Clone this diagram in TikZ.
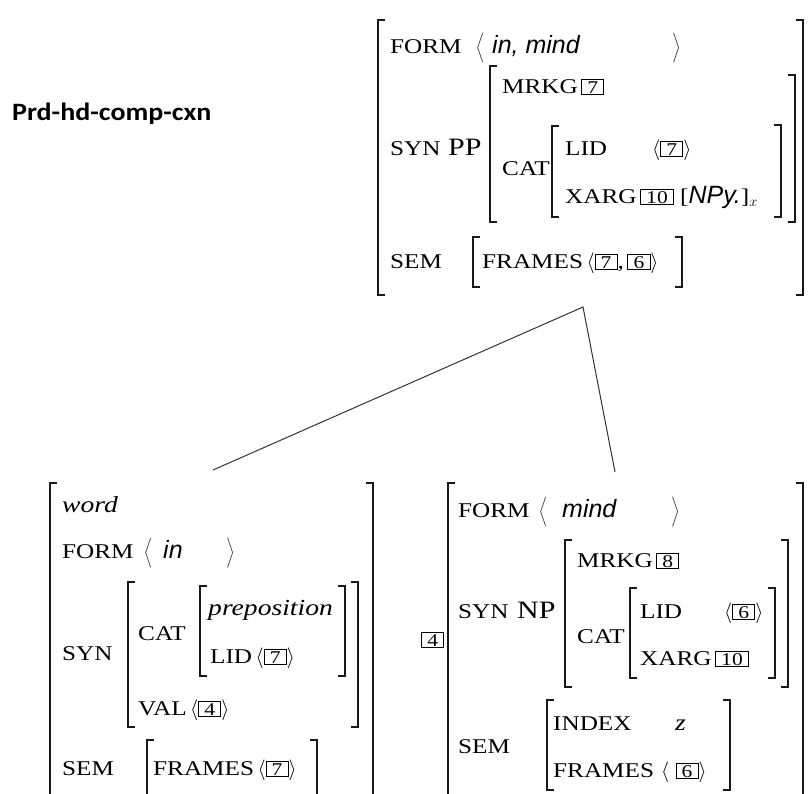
\documentclass[tikz,border=0pt]{standalone}
\usepackage{fontspec}
\setmainfont{Liberation Serif}[FakeStretch=1.2]
\newfontfamily\sansf{Liberation Sans}
\newfontfamily\titlef{Carlito}[FakeStretch=1.12]
\newcommand\bx[1]{{\setlength\fboxsep{1.2pt}\setlength\fboxrule{0.9pt}\fbox{\fontsize{18}{18}\selectfont\hspace{4pt}#1\hspace{4pt}}}}
\newcommand\sit[1]{{\sansf\itshape\fontsize{25}{28}\selectfont #1}}
\newcommand\myLA{$\left\langle\vrule height 21pt depth 9pt width 0pt\right.$}
\newcommand\myRA{$\left.\vrule height 21pt depth 9pt width 0pt\right\rangle$}
\newcommand\la{$\langle$}
\newcommand\ra{$\rangle$}
\tikzset{
  lab/.style={anchor=base west, inner sep=0pt, font=\fontsize{21}{24}\selectfont, text=black},
  big/.style={lab, font=\fontsize{25}{28}\selectfont},
  itl/.style={lab, font=\fontsize{23}{26}\selectfont\itshape},
  brk/.style={line width=1.2pt, black!90},
  conn/.style={line width=1pt, black!80}
}
\newcommand\lbr[3]{\draw[brk] (#1+7,#2) -- (#1,#2) -- (#1,#3) -- (#1+7,#3);}
\newcommand\rbr[3]{\draw[brk] (#1-7,#2) -- (#1,#2) -- (#1,#3) -- (#1-7,#3);}
\begin{document}
\begin{tikzpicture}[x=1pt,y=-1pt]
\useasboundingbox (0,0) rectangle (810,793);
\fill[white] (0,0) rectangle (810,793);

% title
\node[anchor=base west, inner sep=0pt, font=\titlef\bfseries\fontsize{25}{28}\selectfont] (title) at (12,120) {Prd-hd-comp-cxn};

% ---------- top AVM ----------
\lbr{378}{20}{295} \rbr{803}{20}{295}
\node[lab] (tform) at (390,53) {FORM};
\node[lab] (tfl) at (476,53) {\myLA};
\node[lab] (tfv) at (492,53) {\sit{in, mind}};
\node[lab] (tfr) at (671,53) {\myRA};

\node[lab] (tsyn) at (390,155) {SYN};
\node[big] (tpp) at (448,155) {PP};
\lbr{490}{66}{222} \rbr{795}{75}{222}
\node[lab] (tmrkg) at (502,93) {MRKG\,\bx{7}};
\node[lab] (tcat) at (502,175) {CAT};
\lbr{552}{126}{217} \rbr{781}{125}{217}
\node[lab] (tlid) at (565,155) {LID};
\node[lab] (tlidv) at (652,155) {\la\bx{7}\ra};
\node[lab] (txarg) at (565,203) {XARG\,\bx{10}};
\node[lab] (txargv) at (680,203) {[\sit{NPy.}]$_x$};

\node[lab] (tsem) at (390,268) {SEM};
\lbr{473}{237}{287} \rbr{682}{237}{287}
\node[lab] (tframes) at (482,268) {FRAMES\,\la\bx{7},\,\bx{6}\ra};

% connectors
\coordinate (apex) at (583,307);
\coordinate (ltop) at (213,470);
\coordinate (rtop) at (615,472);
\draw[conn] (ltop) -- (apex) -- (rtop);

% ---------- bottom-left AVM ----------
\lbr{50}{483}{805} \rbr{373}{483}{805}
\node[itl] (lword) at (62,512) {word};
\node[lab] (lform) at (62,558) {FORM};
\node[lab] (lfl) at (144,558) {\myLA};
\node[lab] (lfv) at (163,558) {\sit{in}};
\node[lab] (lfr) at (225,558) {\myRA};
\node[lab] (lsyn) at (62,660) {SYN};
\lbr{128}{582}{727} \rbr{358}{582}{727}
\node[lab] (lcat) at (138,640) {CAT};
\lbr{200}{586}{676} \rbr{345}{586}{676}
\node[itl] (lprep) at (208,615) {preposition};
\node[lab] (llid) at (210,663) {LID\,\la\bx{7}\ra};
\node[lab] (lval) at (138,715) {VAL\,\la\bx{4}\ra};
\node[lab] (lsem) at (62,775) {SEM};
\lbr{147}{740}{805} \rbr{317}{740}{805}
\node[lab] (lframes) at (153,775) {FRAMES\,\la\bx{7}\ra};

% ---------- bottom-right AVM ----------
\node[lab] (rtag) at (421,646) {\bx{4}};
\lbr{448}{483}{805} \rbr{803}{483}{805}
\node[lab] (rform) at (458,517) {FORM};
\node[lab] (rfl) at (539,517) {\myLA};
\node[lab] (rfv) at (562,517) {\sit{mind}};
\node[lab] (rfr) at (670,517) {\myRA};
\node[lab] (rsyn) at (458,618) {SYN};
\node[big] (rnp) at (517,618) {NP};
\lbr{565}{540}{687} \rbr{788}{540}{687}
\node[lab] (rmrkg) at (577,567) {MRKG\,\bx{8}};
\node[lab] (rcat) at (577,643) {CAT};
\lbr{630}{588}{678} \rbr{775}{588}{678}
\node[lab] (rlid) at (640,618) {LID};
\node[lab] (rlidv) at (724,618) {\la\bx{6}\ra};
\node[lab] (rxarg) at (640,665) {XARG\,\bx{10}};
\node[lab] (rsem) at (458,753) {SEM};
\lbr{547}{700}{790} \rbr{730}{700}{790}
\node[lab] (rindex) at (553,730) {INDEX};
\node[itl] (rz) at (675,730) {z};
\node[lab] (rframes) at (553,777) {FRAMES};
\node[lab] (rfrv) at (661,777) {\la\ \bx{6}\ra};
\end{tikzpicture}
\end{document}
